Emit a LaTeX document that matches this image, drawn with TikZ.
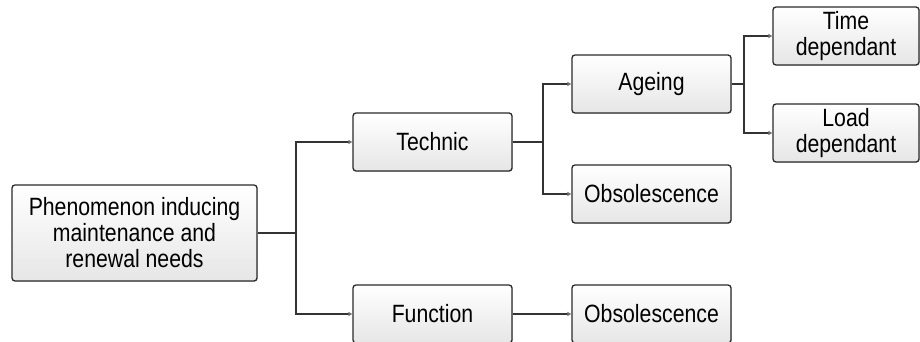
\documentclass[tikz,border=0pt]{standalone}
\usepackage{fontspec}
\setmainfont{Liberation Sans}[FakeStretch=0.85]
\usetikzlibrary{arrows.meta,shadows}
\definecolor{boxborder}{HTML}{2A2A2A}
\definecolor{boxbot}{HTML}{E6E6E6}
\definecolor{linecol}{HTML}{333333}
\definecolor{tipcol}{HTML}{707070}
\tikzset{
  box/.style={draw=boxborder, line width=1.3pt, rounded corners=3pt,
    top color=white, bottom color=boxbot,
    drop shadow={shadow xshift=0.8pt, shadow yshift=-0.8pt, opacity=0.25},
    inner sep=0pt, align=center,
    font=\fontsize{25}{26}\selectfont},
  wbox/.style={box, minimum width=159, minimum height=58},
  sbox/.style={box, minimum width=146, minimum height=58},
  conn/.style={draw=linecol, line width=1.3pt},
  arr/.style={conn, -{Triangle[length=4pt,width=4pt,color=tipcol]}}
}
\begin{document}
\begin{tikzpicture}[x=1pt,y=-1pt]
\clip (0,0) rectangle (920,342);
\fill[white] (0,0) rectangle (920,342);
\node[box, minimum width=245, minimum height=96] (root) at (134.5,233)
  {Phenomenon inducing\\maintenance and\\renewal needs};
\node[wbox] (tech) at (432.5,142) {Technic};
\node[wbox] (func) at (432.5,314) {Function};
\node[wbox] (age) at (651.5,84) {Ageing};
\node[wbox] (obs1) at (651.5,194) {Obsolescence};
\node[wbox] (obs2) at (651.5,314) {Obsolescence};
\node[sbox] (time) at (846,36) {Time\\dependant};
\node[sbox] (load) at (846,133) {Load\\dependant};
\coordinate (j1) at (296,233);
\coordinate (j2) at (543,142);
\coordinate (j3) at (744,84);
\draw[conn] (root.east) -- (j1);
\draw[arr] (j1) |- (tech.west);
\draw[arr] (j1) |- (func.west);
\draw[conn] (tech.east) -- (j2);
\draw[arr] (j2) |- (age.west);
\draw[arr] (j2) |- (obs1.west);
\draw[arr] (func.east) -- (obs2.west);
\draw[conn] (age.east) -- (j3);
\draw[arr] (j3) |- (time.west);
\draw[arr] (j3) |- (load.west);
\end{tikzpicture}
\end{document}
